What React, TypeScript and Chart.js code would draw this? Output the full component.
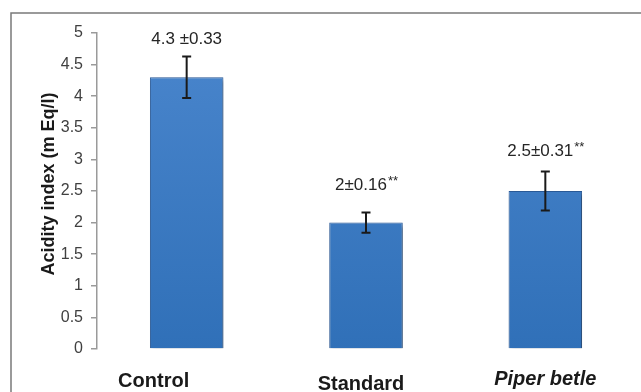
import React, { useEffect, useRef } from "react";
import { Chart, registerables } from "chart.js";

Chart.register(...registerables);

const categories = ["Control", "Standard", "Piper betle"];
const means = [4.3, 2.0, 2.5];
const errors = [0.33, 0.16, 0.31];
const valueLabels = ["4.3 \u00B10.33", "2\u00B10.16", "2.5\u00B10.31"];
const significance = ["", "**", "**"];
const yTicks = [0, 0.5, 1, 1.5, 2, 2.5, 3, 3.5, 4, 4.5, 5];
const yTitle = "Acidity index (m Eq/l)";

const FONT = "'Liberation Sans', Arial, Helvetica, sans-serif";

const annotationPlugin = {
  id: "annotations",
  beforeDatasetsDraw(chart: any) {
    const ctx = chart.ctx;
    ctx.save();
    ctx.shadowColor = "rgba(0,0,0,0.35)";
    ctx.shadowOffsetX = 2;
    ctx.shadowOffsetY = 3;
    ctx.shadowBlur = 4;
  },
  afterDatasetsDraw(chart: any) {
    const ctx = chart.ctx;
    ctx.restore();
    const meta = chart.getDatasetMeta(0);
    const y = chart.scales.y;
    const labelGaps = [12, 22, 15];
    const catLabelBaselines = [387, 390, 385];
    const catLabelShift = [-33, -5, 0];
    ctx.save();
    // frame
    ctx.strokeStyle = "#7a7a7a";
    ctx.lineWidth = 1.5;
    ctx.beginPath();
    ctx.moveTo(11, 392);
    ctx.lineTo(11, 13);
    ctx.lineTo(641, 13);
    ctx.stroke();

    // y title
    ctx.save();
    ctx.translate(49, (chart.chartArea.top + chart.chartArea.bottom) / 2 - 7);
    ctx.rotate(-Math.PI / 2);
    ctx.fillStyle = "#1a1a1a";
    ctx.font = `bold 18px ${FONT}`;
    ctx.textAlign = "center";
    ctx.textBaseline = "middle";
    ctx.fillText(yTitle, 0, 0);
    ctx.restore();

    meta.data.forEach((bar: any, i: number) => {
      const cx = bar.x;
      const top = y.getPixelForValue(means[i] + errors[i]);
      const bot = y.getPixelForValue(means[i] - errors[i]);
      ctx.strokeStyle = "#1a1a1a";
      ctx.lineWidth = 2;
      ctx.beginPath();
      ctx.moveTo(cx, top);
      ctx.lineTo(cx, bot);
      ctx.moveTo(cx - 4.5, top);
      ctx.lineTo(cx + 4.5, top);
      ctx.moveTo(cx - 4.5, bot);
      ctx.lineTo(cx + 4.5, bot);
      ctx.stroke();

      // value label
      ctx.fillStyle = "#262626";
      ctx.font = `17px ${FONT}`;
      const main = valueLabels[i];
      const sig = significance[i];
      const wMain = ctx.measureText(main).width;
      ctx.font = `13px ${FONT}`;
      const wSig = sig ? ctx.measureText(sig).width : 0;
      const total = wMain + wSig;
      const baseY = top - labelGaps[i];
      const startX = cx - total / 2;
      ctx.textAlign = "left";
      ctx.textBaseline = "alphabetic";
      ctx.font = `17px ${FONT}`;
      ctx.fillText(main, startX, baseY);
      if (sig) {
        ctx.font = `13px ${FONT}`;
        ctx.fillText(sig, startX + wMain + 1, baseY - 5);
      }

      // category label
      ctx.fillStyle = "#1a1a1a";
      ctx.textAlign = "center";
      ctx.font = i === 2 ? `italic bold 20px ${FONT}` : `bold 20px ${FONT}`;
      ctx.fillText(categories[i], cx + catLabelShift[i], catLabelBaselines[i]);
    });
    ctx.restore();
  },
};

export default function App() {
  const ref = useRef<HTMLCanvasElement | null>(null);
  useEffect(() => {
    if (!ref.current) return;
    const chart = new Chart(ref.current, {
      type: "bar",
      data: {
        labels: categories,
        datasets: [
          {
            data: means,
            backgroundColor: (c: any) => {
              const area = c.chart.chartArea;
              if (!area) return "#3d7bc4";
              const g = c.chart.ctx.createLinearGradient(0, area.top, 0, area.bottom);
              g.addColorStop(0, "#4a86cd");
              g.addColorStop(1, "#3070b8");
              return g;
            },
            borderColor: "#2a5a98",
            borderWidth: 1,
            barPercentage: 0.41,
            categoryPercentage: 1,
          },
        ],
      },
      options: {
        responsive: false,
        animation: false,
        devicePixelRatio: 1,
        layout: { padding: { left: 0, top: 33, right: 6, bottom: 43 } },
        plugins: {
          legend: { display: false },
          tooltip: { enabled: false },
          title: { display: false },
        },
        scales: {
          x: { display: false },
          y: {
            min: 0,
            max: 5,
            afterFit: (s: any) => {
              s.width = 97;
            },
            afterBuildTicks: (s: any) => {
              s.ticks = yTicks.map((v) => ({ value: v }));
            },
            ticks: {
              font: { family: FONT, size: 16 },
              color: "#404040",
              padding: 8,
              callback: (v: any) => String(v),
            },
            grid: {
              display: true,
              drawOnChartArea: false,
              drawTicks: true,
              tickLength: 6,
              color: "#9a9a9a",
              lineWidth: 1.5,
            },
            border: { display: true, color: "#9a9a9a", width: 1.5 },
          },
        },
      },
      plugins: [annotationPlugin],
    });
    return () => chart.destroy();
  }, []);
  return (
    <div style={{ position: "fixed", left: 0, top: 0, width: 641, height: 392, background: "#fff" }}>
      <canvas ref={ref} width={641} height={392} />
    </div>
  );
}
